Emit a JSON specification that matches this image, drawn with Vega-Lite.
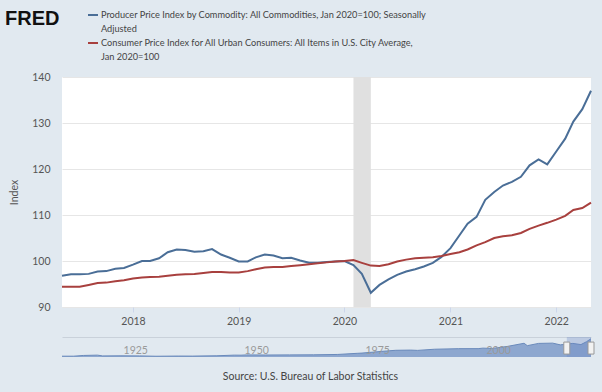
{
  "$schema": "https://vega.github.io/schema/vega-lite/v6.json",
  "background": "#e1e9f0",
  "padding": {"left": 5, "top": 9, "right": 10, "bottom": 12},
  "config": {
    "font": "Lato",
    "axis": {"labelFont": "Lato", "labelFontSize": 10.5, "labelColor": "#555555", "titleFont": "Lato", "titleFontSize": 10.5, "titleFontWeight": "normal", "titleColor": "#555555"},
    "legend": {"labelFont": "Lato"}
  },
  "datasets": {
    "main": [
      {"date": "2017-05-01", "PPI": 96.8, "CPI": 94.4},
      {"date": "2017-06-01", "PPI": 97.1, "CPI": 94.4},
      {"date": "2017-07-01", "PPI": 97.1, "CPI": 94.4},
      {"date": "2017-08-01", "PPI": 97.2, "CPI": 94.8},
      {"date": "2017-09-01", "PPI": 97.7, "CPI": 95.2},
      {"date": "2017-10-01", "PPI": 97.8, "CPI": 95.3},
      {"date": "2017-11-01", "PPI": 98.3, "CPI": 95.6},
      {"date": "2017-12-01", "PPI": 98.5, "CPI": 95.8},
      {"date": "2018-01-01", "PPI": 99.2, "CPI": 96.2},
      {"date": "2018-02-01", "PPI": 100.0, "CPI": 96.4},
      {"date": "2018-03-01", "PPI": 100.0, "CPI": 96.5},
      {"date": "2018-04-01", "PPI": 100.6, "CPI": 96.6},
      {"date": "2018-05-01", "PPI": 101.9, "CPI": 96.8},
      {"date": "2018-06-01", "PPI": 102.5, "CPI": 97.0},
      {"date": "2018-07-01", "PPI": 102.4, "CPI": 97.1},
      {"date": "2018-08-01", "PPI": 102.0, "CPI": 97.2},
      {"date": "2018-09-01", "PPI": 102.1, "CPI": 97.4},
      {"date": "2018-10-01", "PPI": 102.6, "CPI": 97.6},
      {"date": "2018-11-01", "PPI": 101.4, "CPI": 97.6},
      {"date": "2018-12-01", "PPI": 100.7, "CPI": 97.5},
      {"date": "2019-01-01", "PPI": 99.9, "CPI": 97.5},
      {"date": "2019-02-01", "PPI": 99.9, "CPI": 97.8},
      {"date": "2019-03-01", "PPI": 100.8, "CPI": 98.2},
      {"date": "2019-04-01", "PPI": 101.4, "CPI": 98.6},
      {"date": "2019-05-01", "PPI": 101.2, "CPI": 98.7},
      {"date": "2019-06-01", "PPI": 100.6, "CPI": 98.7},
      {"date": "2019-07-01", "PPI": 100.7, "CPI": 98.9},
      {"date": "2019-08-01", "PPI": 100.1, "CPI": 99.1},
      {"date": "2019-09-01", "PPI": 99.6, "CPI": 99.3},
      {"date": "2019-10-01", "PPI": 99.6, "CPI": 99.5},
      {"date": "2019-11-01", "PPI": 99.8, "CPI": 99.7},
      {"date": "2019-12-01", "PPI": 99.9, "CPI": 99.9},
      {"date": "2020-01-01", "PPI": 100.0, "CPI": 100.0},
      {"date": "2020-02-01", "PPI": 99.1, "CPI": 100.2},
      {"date": "2020-03-01", "PPI": 97.2, "CPI": 99.6},
      {"date": "2020-04-01", "PPI": 93.1, "CPI": 99.0},
      {"date": "2020-05-01", "PPI": 94.8, "CPI": 98.9},
      {"date": "2020-06-01", "PPI": 96.0, "CPI": 99.3},
      {"date": "2020-07-01", "PPI": 97.0, "CPI": 99.9},
      {"date": "2020-08-01", "PPI": 97.7, "CPI": 100.3},
      {"date": "2020-09-01", "PPI": 98.2, "CPI": 100.6},
      {"date": "2020-10-01", "PPI": 98.8, "CPI": 100.7},
      {"date": "2020-11-01", "PPI": 99.6, "CPI": 100.8},
      {"date": "2020-12-01", "PPI": 100.9, "CPI": 101.1},
      {"date": "2021-01-01", "PPI": 102.8, "CPI": 101.5},
      {"date": "2021-02-01", "PPI": 105.6, "CPI": 101.9},
      {"date": "2021-03-01", "PPI": 108.1, "CPI": 102.5},
      {"date": "2021-04-01", "PPI": 109.6, "CPI": 103.4},
      {"date": "2021-05-01", "PPI": 113.3, "CPI": 104.1},
      {"date": "2021-06-01", "PPI": 115.0, "CPI": 105.0},
      {"date": "2021-07-01", "PPI": 116.4, "CPI": 105.4},
      {"date": "2021-08-01", "PPI": 117.2, "CPI": 105.6},
      {"date": "2021-09-01", "PPI": 118.3, "CPI": 106.1},
      {"date": "2021-10-01", "PPI": 120.8, "CPI": 107.0},
      {"date": "2021-11-01", "PPI": 122.1, "CPI": 107.7},
      {"date": "2021-12-01", "PPI": 121.0, "CPI": 108.3},
      {"date": "2022-01-01", "PPI": 123.8, "CPI": 109.0},
      {"date": "2022-02-01", "PPI": 126.6, "CPI": 109.8},
      {"date": "2022-03-01", "PPI": 130.3, "CPI": 111.1},
      {"date": "2022-04-01", "PPI": 133.0, "CPI": 111.5},
      {"date": "2022-05-01", "PPI": 137.0, "CPI": 112.7}
    ],
    "nav": [
      {"date": "1913-01-01", "value": 6.0},
      {"date": "1915-06-01", "value": 6.1},
      {"date": "1917-06-01", "value": 11.5},
      {"date": "1920-05-01", "value": 14.0},
      {"date": "1921-06-01", "value": 8.2},
      {"date": "1925-01-01", "value": 8.9},
      {"date": "1929-01-01", "value": 8.3},
      {"date": "1932-06-01", "value": 5.7},
      {"date": "1937-01-01", "value": 7.1},
      {"date": "1940-01-01", "value": 6.7},
      {"date": "1945-01-01", "value": 9.2},
      {"date": "1948-08-01", "value": 14.0},
      {"date": "1950-01-01", "value": 13.7},
      {"date": "1951-03-01", "value": 15.8},
      {"date": "1955-01-01", "value": 15.0},
      {"date": "1960-01-01", "value": 15.9},
      {"date": "1965-01-01", "value": 16.3},
      {"date": "1970-01-01", "value": 19.1},
      {"date": "1974-01-01", "value": 27.6},
      {"date": "1975-01-01", "value": 29.3},
      {"date": "1980-01-01", "value": 45.0},
      {"date": "1982-01-01", "value": 50.3},
      {"date": "1985-01-01", "value": 51.8},
      {"date": "1986-07-01", "value": 49.6},
      {"date": "1990-01-01", "value": 58.3},
      {"date": "1995-01-01", "value": 62.5},
      {"date": "1999-01-01", "value": 62.7},
      {"date": "2000-01-01", "value": 66.5},
      {"date": "2001-12-01", "value": 64.0},
      {"date": "2005-01-01", "value": 79.0},
      {"date": "2008-07-01", "value": 103.0},
      {"date": "2009-03-01", "value": 85.0},
      {"date": "2011-07-01", "value": 102.0},
      {"date": "2014-06-01", "value": 104.0},
      {"date": "2016-01-01", "value": 91.0},
      {"date": "2018-08-01", "value": 102.0},
      {"date": "2020-04-01", "value": 93.0},
      {"date": "2021-06-01", "value": 115.0},
      {"date": "2022-05-01", "value": 137.0}
    ]
  },
  "spacing": 9,
  "vconcat": [
    {
      "width": 529,
      "height": 230,
      "view": {"fill": "white", "stroke": null},
      "layer": [
        {
          "data": {"values": [{"start": "2020-02-01", "end": "2020-04-01"}]},
          "mark": {"type": "rect", "color": "#e0e0e0"},
          "encoding": {
            "x": {"field": "start", "type": "temporal", "title": null, "scale": {"domain": [{"year": 2017, "month": 5, "date": 1, "utc": true}, {"year": 2022, "month": 5, "date": 1, "utc": true}]}},
            "x2": {"field": "end"}
          }
        },
        {
          "data": {"name": "main"},
          "transform": [{"fold": ["PPI", "CPI"], "as": ["series", "value"]}],
          "mark": {"type": "line", "strokeWidth": 2},
          "encoding": {
            "x": {
              "field": "date", "type": "temporal", "title": null,
              "scale": {"domain": [{"year": 2017, "month": 5, "date": 1, "utc": true}, {"year": 2022, "month": 5, "date": 1, "utc": true}]},
              "axis": {
                "values": [{"year": 2018, "month": 1, "date": 1, "utc": true}, {"year": 2019, "month": 1, "date": 1, "utc": true}, {"year": 2020, "month": 1, "date": 1, "utc": true}, {"year": 2021, "month": 1, "date": 1, "utc": true}, {"year": 2022, "month": 1, "date": 1, "utc": true}],
                "format": "%Y", "grid": false, "domain": false, "ticks": true, "tickSize": 5, "tickColor": "#ccd6eb", "labelPadding": 4
              }
            },
            "y": {
              "field": "value", "type": "quantitative",
              "scale": {"domain": [90, 140], "nice": false, "zero": false},
              "axis": {"values": [90, 100, 110, 120, 130, 140], "title": "Index", "grid": true, "gridColor": "#e6e6e6", "domain": false, "ticks": false, "labelPadding": 12, "titlePadding": 12}
            },
            "color": {
              "field": "series", "type": "nominal",
              "scale": {"domain": ["PPI", "PPI2", "CPI", "CPI2"], "range": ["#4a6e97", "transparent", "#a8403e", "transparent"]},
              "legend": {
                "orient": "none", "legendX": -57, "legendY": -68, "padding": 0,
                "title": "FRED", "titleOrient": "left", "titleAnchor": "start", "titleFontSize": 20, "titleFont": "Liberation Sans", "titleFontWeight": "bold", "titleColor": "#111111", "titlePadding": 27, "titleBaseline": "top",
                "labelExpr": "datum.value == 'PPI' ? 'Producer Price Index by Commodity: All Commodities, Jan 2020=100; Seasonally' : datum.value == 'PPI2' ? 'Adjusted' : datum.value == 'CPI' ? 'Consumer Price Index for All Urban Consumers: All Items in U.S. City Average,' : 'Jan 2020=100'",
                "labelFontSize": 9.2, "labelColor": "#444444", "labelLimit": 600, "labelOffset": 2,
                "symbolType": "stroke", "symbolSize": 100, "symbolStrokeWidth": 2, "rowPadding": 2
              }
            }
          }
        }
      ]
    },
    {
      "width": 529,
      "height": 20,
      "view": {"stroke": null},
      "layer": [
        {
          "data": {"name": "nav"},
          "mark": {"type": "area", "color": "#8da7cf", "opacity": 1, "line": {"color": "#6a8abb", "strokeWidth": 1}},
          "encoding": {
            "x": {
              "field": "date", "type": "temporal",
              "scale": {"domain": [{"year": 1913, "month": 1, "date": 1, "utc": true}, {"year": 2022, "month": 5, "date": 1, "utc": true}]},
              "axis": {
                "values": [{"year": 1925, "month": 1, "date": 1, "utc": true}, {"year": 1950, "month": 1, "date": 1, "utc": true}, {"year": 1975, "month": 1, "date": 1, "utc": true}, {"year": 2000, "month": 1, "date": 1, "utc": true}],
                "format": "%Y", "labelAlign": "left", "labelOffset": 3, "labelPadding": -12, "labelBaseline": "top", "labelColor": "#9a9a9a", "zindex": 1,
                "ticks": false, "domain": false, "grid": false,
                "title": "Source: U.S. Bureau of Labor Statistics", "titleColor": "#444444", "titleFontSize": 10.5, "titlePadding": 14, "titleX": 248, "titleAnchor": "middle", "titleAlign": "center"
              }
            },
            "y": {
              "field": "value", "type": "quantitative",
              "scale": {"domain": [0, 150], "nice": false},
              "axis": {"values": [150], "grid": true, "gridColor": "#c9d1da", "labels": false, "ticks": false, "domain": false, "title": null}
            }
          }
        },
        {
          "data": {"values": [{"start": "2017-05-01", "end": "2022-05-01"}]},
          "mark": {"type": "rect", "color": "#6685c2", "opacity": 0.3},
          "encoding": {
            "x": {"field": "start", "type": "temporal"},
            "x2": {"field": "end"}
          }
        },
        {
          "data": {"values": [{"date": "2017-05-01", "value": 67}, {"date": "2022-05-01", "value": 67}]},
          "mark": {"type": "point", "shape": "M-0.5,-1L0.5,-1L0.5,1L-0.5,1Z", "size": 144, "filled": true, "fill": "#f2f2f2", "stroke": "#999999", "strokeWidth": 1, "opacity": 1},
          "encoding": {
            "x": {"field": "date", "type": "temporal"},
            "y": {"field": "value", "type": "quantitative"}
          }
        }
      ]
    }
  ]
}
